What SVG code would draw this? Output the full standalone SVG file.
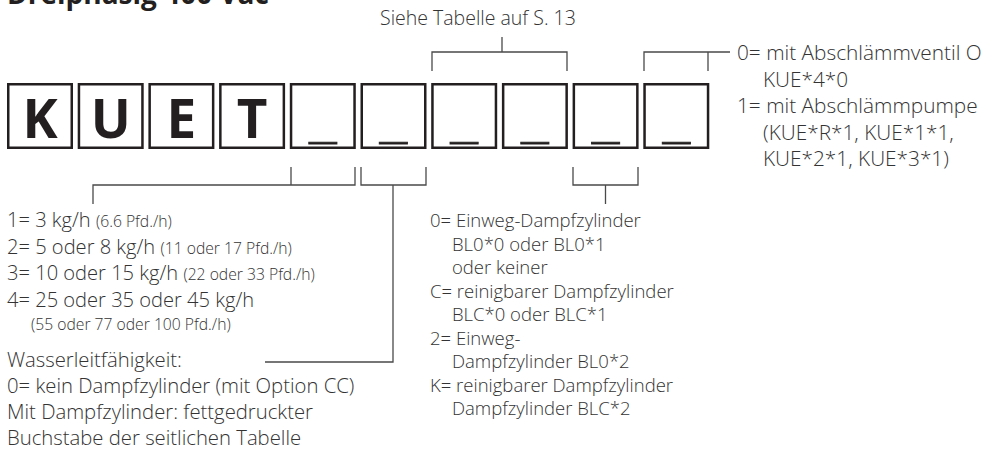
<svg xmlns="http://www.w3.org/2000/svg" width="982" height="462" viewBox="0 0 982 462">
<style>
.box{fill:none;stroke:#231f20;stroke-width:2.5}
.ln{fill:none;stroke:#4a4a4a;stroke-width:1.3}
.t{font-family:"Open Sans","Noto Sans",sans-serif;font-weight:300;fill:#333333}
.fa{font-size:20.1px}
.fw{font-size:20.3px}
.fr{font-size:20.8px}
.f19{font-size:19.5px}
.f18{font-size:18.5px}
.sm{font-size:15.7px}
.big{font-family:"Open Sans","Noto Sans",sans-serif;font-size:53px;font-weight:700;fill:#231f20;text-anchor:middle}
.us{font-family:"Liberation Sans",Arial,sans-serif;font-size:49px;font-weight:700;fill:#231f20;stroke:#231f20;stroke-width:0.9;text-anchor:middle}
.title{font-family:"Open Sans","Noto Sans",sans-serif;font-size:28px;font-weight:700;fill:#231f20}
</style>
<text class="title" x="7" y="4">Dreiphasig 400 Vac</text>
<g id="box1"><rect class="box" x="8.25" y="84.25" width="63.5" height="63.5"/><text class="big" x="40" y="138">K</text></g>
<g id="box2"><rect class="box" x="78.95" y="84.25" width="63.5" height="63.5"/><text class="big" x="110.7" y="138">U</text></g>
<g id="box3"><rect class="box" x="149.65" y="84.25" width="63.5" height="63.5"/><text class="big" x="181.4" y="138">E</text></g>
<g id="box4"><rect class="box" x="220.35" y="84.25" width="63.5" height="63.5"/><text class="big" x="252.1" y="138">T</text></g>
<g id="box5"><rect class="box" x="291.05" y="84.25" width="63.5" height="63.5"/><text class="us" x="322.8" y="138">_</text></g>
<g id="box6"><rect class="box" x="361.75" y="84.25" width="63.5" height="63.5"/><text class="us" x="393.5" y="138">_</text></g>
<g id="box7"><rect class="box" x="432.45" y="84.25" width="63.5" height="63.5"/><text class="us" x="464.2" y="138">_</text></g>
<g id="box8"><rect class="box" x="503.15" y="84.25" width="63.5" height="63.5"/><text class="us" x="534.9" y="138">_</text></g>
<g id="box9"><rect class="box" x="573.85" y="84.25" width="63.5" height="63.5"/><text class="us" x="605.6" y="138">_</text></g>
<g id="box10"><rect class="box" x="644.55" y="84.25" width="63.5" height="63.5"/><text class="us" x="676.3" y="138">_</text></g>
<g id="connectors">
<path class="ln" d="M502 37V52M432 71V52H567V71"/>
<path class="ln" d="M644 71V52H708V71M708 52H730"/>
<path class="ln" d="M291 167V185M355 167V185H93V204"/>
<path class="ln" d="M361 167V185H426V167M393 185V362H265"/>
<path class="ln" d="M573 167V185H638V167M605.5 185V204"/>
</g>
<g id="label-top"><text class="t f19" x="380" y="25">Siehe Tabelle auf S. 13</text></g>
<g id="label-right" class="t fr">
<text x="737" y="60">0= mit Abschlämmventil O</text>
<text x="763" y="86.5">KUE*4*0</text>
<text x="737" y="113">1= mit Abschlämmpumpe</text>
<text x="763" y="139.5">(KUE*R*1, KUE*1*1,</text>
<text x="763" y="166">KUE*2*1, KUE*3*1)</text>
</g>
<g id="label-capacity" class="t fa">
<text x="7" y="227">1= 3 kg/h <tspan class="sm">(6.6 Pfd./h)</tspan></text>
<text x="7" y="253.5">2= 5 oder 8 kg/h <tspan class="sm">(11 oder 17 Pfd./h)</tspan></text>
<text x="7" y="280">3= 10 oder 15 kg/h <tspan class="sm">(22 oder 33 Pfd./h)</tspan></text>
<text x="7" y="306.5">4= 25 oder 35 oder 45 kg/h</text>
<text class="sm" x="31" y="330">(55 oder 77 oder 100 Pfd./h)</text>
</g>
<g id="label-water" class="t fw">
<text x="7" y="367">Wasserleitfähigkeit:</text>
<text x="7" y="393">0= kein Dampfzylinder (mit Option CC)</text>
<text x="7" y="419">Mit Dampfzylinder: fettgedruckter</text>
<text x="7" y="445">Buchstabe der seitlichen Tabelle</text>
</g>
<g id="label-cylinder" class="t f18">
<text x="430" y="227">0= Einweg-Dampfzylinder</text>
<text x="452" y="250.5">BL0*0 oder BL0*1</text>
<text x="452" y="274">oder keiner</text>
<text x="430" y="297.5">C= reinigbarer Dampfzylinder</text>
<text x="452" y="321">BLC*0 oder BLC*1</text>
<text x="430" y="344.5">2= Einweg-</text>
<text x="452" y="368">Dampfzylinder BL0*2</text>
<text x="430" y="391.5">K= reinigbarer Dampfzylinder</text>
<text x="452" y="415">Dampfzylinder BLC*2</text>
</g>
</svg>
